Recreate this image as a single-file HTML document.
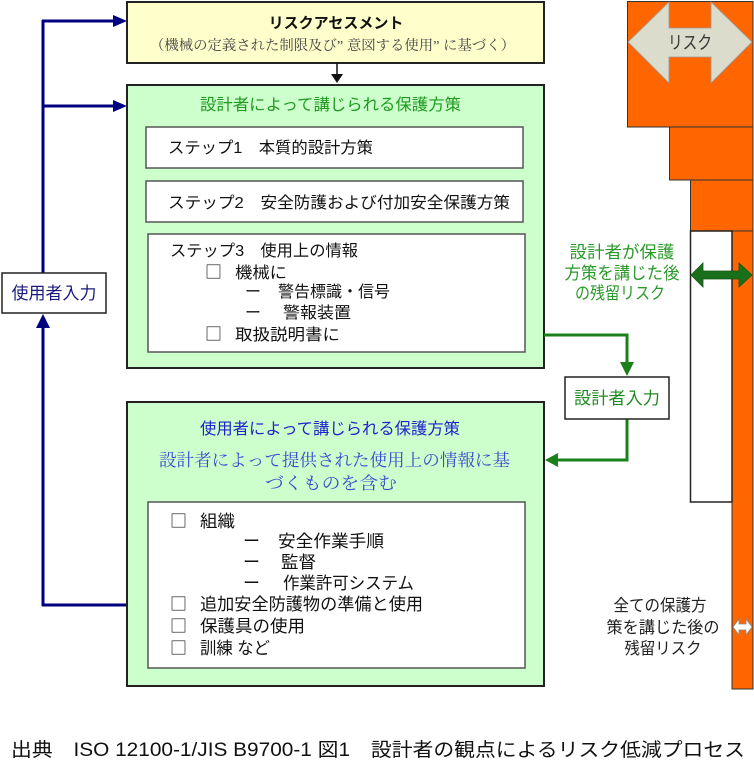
<!DOCTYPE html>
<html lang="ja">
<head>
<meta charset="utf-8">
<style>
html,body{margin:0;padding:0;background:#fff;}
svg{display:block;}
text{font-family:"Liberation Sans","Noto Sans CJK JP",sans-serif;}
.serif{font-family:"Liberation Serif","Noto Serif CJK SC",serif;}
.box{font-family:"Noto Sans CJK JP",sans-serif;}
</style>
</head>
<body>
<svg width="754" height="765" viewBox="0 0 754 765" xmlns="http://www.w3.org/2000/svg">
<rect x="0" y="0" width="754" height="765" fill="#fff"/>

<!-- Blue feedback lines -->
<g stroke="#000080" stroke-width="3" fill="none">
  <line x1="43" y1="20" x2="43" y2="273"/>
  <line x1="42" y1="21" x2="115" y2="21"/>
  <line x1="42" y1="106" x2="115" y2="106"/>
  <line x1="43" y1="326" x2="43" y2="606"/>
  <line x1="42" y1="605" x2="128" y2="605"/>
</g>
<g fill="#000080">
  <polygon points="127,21 113,15 113,27"/>
  <polygon points="127,106 113,100 113,112"/>
  <polygon points="43,314 36,328 50,328"/>
</g>

<!-- Risk assessment box -->
<rect x="127" y="2" width="417" height="61" fill="#ffffcc" stroke="#222" stroke-width="2"/>
<text x="336" y="28" font-size="15" font-weight="bold" text-anchor="middle" fill="#111">リスクアセスメント</text>
<text class="serif" x="150" y="50" font-size="14" fill="#444" textLength="365" lengthAdjust="spacingAndGlyphs">（機械の定義された制限及び” 意図する使用” に基づく）</text>

<!-- black arrow -->
<line x1="337" y1="63" x2="337" y2="75" stroke="#111" stroke-width="1.5"/>
<polygon points="337,83 331,74 343,74" fill="#111"/>

<!-- Designer green box -->
<rect x="127" y="85" width="417" height="283" fill="#ccffcc" stroke="#222" stroke-width="2"/>
<text x="200" y="110" font-size="16" fill="#1f9a1f" textLength="261" lengthAdjust="spacingAndGlyphs">設計者によって講じられる保護方策</text>

<rect x="146" y="127" width="377" height="41" fill="#fff" stroke="#555" stroke-width="1.5"/>
<text x="168" y="153" font-size="16" fill="#111" textLength="205" lengthAdjust="spacingAndGlyphs">ステップ1　本質的設計方策</text>

<rect x="146" y="181" width="377" height="41" fill="#fff" stroke="#555" stroke-width="1.5"/>
<text x="168" y="208" font-size="16" fill="#111" textLength="342" lengthAdjust="spacingAndGlyphs">ステップ2　安全防護および付加安全保護方策</text>

<rect x="148" y="234" width="377" height="118" fill="#fff" stroke="#555" stroke-width="1.5"/>
<g font-size="16" fill="#111">
  <text x="170" y="256" textLength="188" lengthAdjust="spacingAndGlyphs">ステップ3　使用上の情報</text>
  <text class="box" x="205" y="278" font-size="17">□</text>
  <text x="235" y="278" textLength="52" lengthAdjust="spacingAndGlyphs">機械に</text>
  <text x="245" y="297">ー</text>
  <text x="278" y="297" textLength="112" lengthAdjust="spacingAndGlyphs">警告標識・信号</text>
  <text x="245" y="318">ー</text>
  <text x="283" y="318" textLength="68" lengthAdjust="spacingAndGlyphs">警報装置</text>
  <text class="box" x="205" y="340" font-size="17">□</text>
  <text x="235" y="340" textLength="105" lengthAdjust="spacingAndGlyphs">取扱説明書に</text>
</g>

<!-- User input box -->
<rect x="2" y="273" width="104" height="40" fill="#fff" stroke="#222" stroke-width="1.5"/>
<text x="54" y="299" font-size="17" text-anchor="middle" fill="#1a1a80" textLength="85" lengthAdjust="spacingAndGlyphs">使用者入力</text>

<!-- Green connectors -->
<g stroke="#1a801a" stroke-width="3" fill="none">
  <polyline points="544,335 627,335 627,363"/>
  <polyline points="627,419 627,460 557,460"/>
</g>
<g fill="#1a801a">
  <polygon points="627,376 620,362 634,362"/>
  <polygon points="545,460 558,453 558,467"/>
</g>

<!-- Designer input box -->
<rect x="565" y="377" width="104" height="42" fill="#fff" stroke="#222" stroke-width="1.5"/>
<text x="617" y="404" font-size="17" text-anchor="middle" fill="#1f8a1f" textLength="86" lengthAdjust="spacingAndGlyphs">設計者入力</text>

<!-- User green box -->
<rect x="127" y="402" width="417" height="284" fill="#ccffcc" stroke="#222" stroke-width="2"/>
<text x="200" y="434" font-size="16" fill="#2222cc" textLength="260" lengthAdjust="spacingAndGlyphs">使用者によって講じられる保護方策</text>
<text class="serif" x="159" y="466" font-size="17" fill="#3a4ad0" textLength="351" lengthAdjust="spacingAndGlyphs">設計者によって提供された使用上の情報に基</text>
<text class="serif" x="265" y="489" font-size="17" fill="#3a4ad0" textLength="132" lengthAdjust="spacingAndGlyphs">づくものを含む</text>

<rect x="148" y="502" width="377" height="166" fill="#fff" stroke="#555" stroke-width="1.5"/>
<g font-size="17" fill="#111">
  <text class="box" x="170" y="527">□</text>
  <text x="200" y="527" textLength="35" lengthAdjust="spacingAndGlyphs">組織</text>
  <text x="243" y="547">ー</text>
  <text x="278" y="547" textLength="106" lengthAdjust="spacingAndGlyphs">安全作業手順</text>
  <text x="243" y="568">ー</text>
  <text x="281" y="568" textLength="35" lengthAdjust="spacingAndGlyphs">監督</text>
  <text x="243" y="589">ー</text>
  <text x="283" y="589" textLength="131" lengthAdjust="spacingAndGlyphs">作業許可システム</text>
  <text class="box" x="170" y="610">□</text>
  <text x="200" y="610" textLength="223" lengthAdjust="spacingAndGlyphs">追加安全防護物の準備と使用</text>
  <text class="box" x="170" y="632">□</text>
  <text x="200" y="632" textLength="105" lengthAdjust="spacingAndGlyphs">保護具の使用</text>
  <text class="box" x="170" y="654">□</text>
  <text x="200" y="654" textLength="70" lengthAdjust="spacingAndGlyphs">訓練 など</text>
</g>

<!-- Orange risk column -->
<g fill="#ff6600" stroke="#333" stroke-width="1">
  <rect x="627.5" y="1.5" width="125.5" height="125.5"/>
  <rect x="669.5" y="127" width="83.5" height="53"/>
  <rect x="690.5" y="180" width="62.5" height="51"/>
  <rect x="732" y="231" width="21" height="458"/>
</g>
<rect x="690.5" y="231" width="41.5" height="271" fill="#fff" stroke="#222" stroke-width="1.5"/>

<!-- Risk gray double arrow -->
<polygon points="628,42 669,2 669,28 711,28 711,2 752,42 711,83 711,57 669,57 669,83" fill="#dcdccc" stroke="#999" stroke-width="0.8"/>
<text x="690" y="49" font-size="18" text-anchor="middle" fill="#333" textLength="44" lengthAdjust="spacingAndGlyphs">リスク</text>

<!-- Green double arrow -->
<polygon points="691,275 703,263 703,271 739,271 739,263 752,275 739,287 739,279 703,279 703,287" fill="#1a701a" stroke="#145214" stroke-width="0.8"/>

<!-- Small white double arrow -->
<polygon points="733,627 739,619 739,624 746,624 746,619 752,627 746,635 746,630 739,630 739,635" fill="#fff" stroke="#888" stroke-width="0.8"/>

<!-- Green residual risk text -->
<g font-size="17" fill="#2a9a2a" text-anchor="middle">
  <text x="622" y="258" textLength="105" lengthAdjust="spacingAndGlyphs">設計者が保護</text>
  <text x="622" y="279" textLength="115" lengthAdjust="spacingAndGlyphs">方策を講じた後</text>
  <text x="620" y="299" textLength="90" lengthAdjust="spacingAndGlyphs">の残留リスク</text>
</g>

<!-- Black residual risk text -->
<g font-size="16.5" fill="#222" text-anchor="middle">
  <text x="660" y="611" textLength="93" lengthAdjust="spacingAndGlyphs">全ての保護方</text>
  <text x="663" y="633" textLength="113" lengthAdjust="spacingAndGlyphs">策を講じた後の</text>
  <text x="663" y="654" textLength="77" lengthAdjust="spacingAndGlyphs">残留リスク</text>
</g>

<!-- Footer -->
<text x="11" y="756" font-size="19" fill="#111" textLength="734" lengthAdjust="spacingAndGlyphs">出典　ISO 12100-1/JIS B9700-1 図1　設計者の観点によるリスク低減プロセス</text>
</svg>
</body>
</html>
